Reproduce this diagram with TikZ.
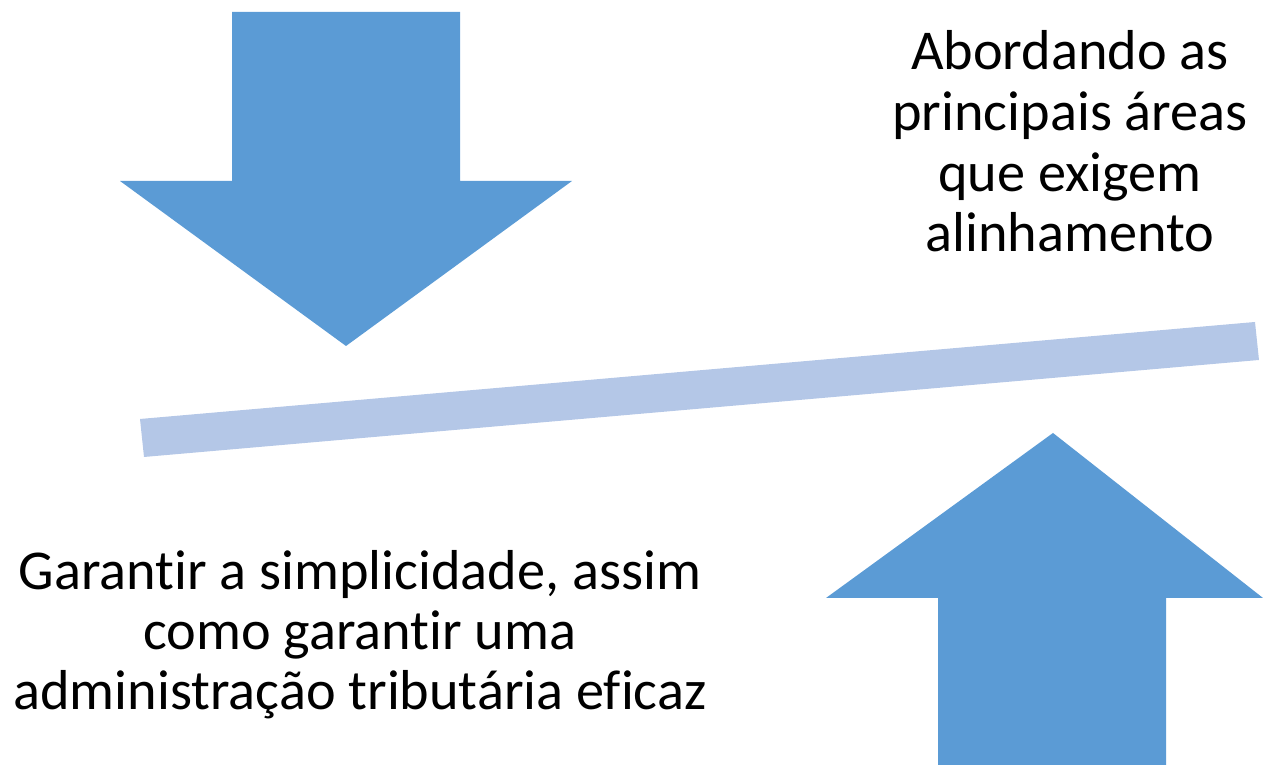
\documentclass[tikz,border=0pt]{standalone}
\usepackage{fontspec}
\setmainfont{Carlito}[RawFeature=-liga]
\definecolor{arrowblue}{HTML}{5B9BD5}
\definecolor{barblue}{HTML}{B4C7E7}
\begin{document}
\begin{tikzpicture}[x=0.01cm,y=-0.01cm,
  arrowshape/.style={fill=arrowblue,draw=none},
  barshape/.style={fill=barblue,draw=none},
  txt/.style={anchor=base,inner sep=0pt,font=\fontsize{16pt}{17.4pt}\selectfont}]
\useasboundingbox (0,0) rectangle (1263,765);
% down arrow
\fill[arrowshape] (232,12) -- (460,12) -- (460,181) -- (572,181) -- (346,346) -- (120,181) -- (232,181) -- cycle;
% bar
\fill[barshape] (140,419) -- (1255,322) -- (1259,360) -- (144,457) -- cycle;
% up arrow
\fill[arrowshape] (1053,433) -- (1263,598) -- (1166,598) -- (1166,765) -- (938,765) -- (938,598) -- (826,598) -- cycle;
% texts
\node[txt] (t1) at (1070,70) {Abordando as};
\node[txt] (t2) at (1070,131) {principais áreas};
\node[txt] (t3) at (1070,192) {que exigem};
\node[txt] (t4) at (1070,252) {alinhamento};
\node[txt] (b1) at (360,590) {Garantir a simplicidade, assim};
\node[txt] (b2) at (360,650) {como garantir uma};
\node[txt] (b3) at (360,710) {administração tributária eficaz};
\end{tikzpicture}
\end{document}
